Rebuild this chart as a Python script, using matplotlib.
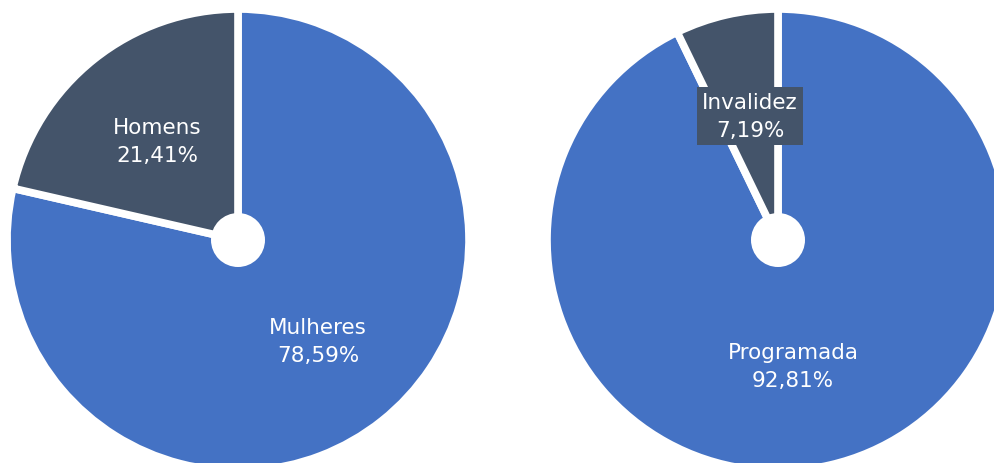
import matplotlib
matplotlib.use("Agg")
import matplotlib.pyplot as plt
from matplotlib.patches import Circle

# dados
sexo_labels = ["Mulheres", "Homens"]
sexo_valores = [78.59, 21.41]
tipo_labels = ["Programada", "Invalidez"]
tipo_valores = [92.81, 7.19]

azul = "#4472C4"
escuro = "#44546A"

plt.rcParams["font.family"] = ["DejaVu Sans"]

fig = plt.figure(figsize=(9.95, 4.64), dpi=100)
ax = fig.add_axes([0, 0, 1, 1])

raio = 231
centros = [(238, 223), (778, 223)]

for (cx, cy), vals in zip(centros, [sexo_valores, tipo_valores]):
    ax.pie(vals, colors=[azul, escuro], startangle=90, counterclock=False,
           center=(cx, cy), radius=raio, frame=True,
           wedgeprops=dict(edgecolor="white", linewidth=5.5))
    ax.add_patch(Circle((cx, cy), 27, facecolor="white", edgecolor="none", zorder=5))

ax.set_xlim(0, 995)
ax.set_ylim(0, 464)
ax.set_aspect("equal")
ax.axis("off")

def rotulo(x, y, nome, val, caixa=False):
    txt = f"{nome}\n{val:.2f}%".replace(".", ",")
    kw = {}
    if caixa:
        kw["bbox"] = dict(boxstyle="square,pad=0.25", facecolor=escuro, edgecolor="none")
    ax.text(x, y, txt, color="white", fontsize=15.5, ha="center", va="center",
            linespacing=1.45, zorder=6, **kw)

rotulo(157, 322, sexo_labels[1], sexo_valores[1])
rotulo(318, 122, sexo_labels[0], sexo_valores[0])
rotulo(750, 347, tipo_labels[1], tipo_valores[1], caixa=True)
rotulo(793, 97, tipo_labels[0], tipo_valores[0])

fig.savefig("out.png", dpi=100)
